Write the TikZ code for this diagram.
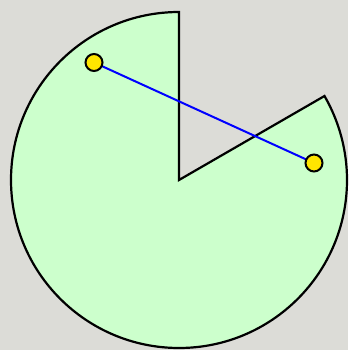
\documentclass[tikz,border=0pt]{standalone}
\definecolor{bggrey}{HTML}{DCDCD7}
\definecolor{pacgreen}{HTML}{CCFFCC}
\definecolor{dotyellow}{HTML}{FFE600}
\begin{document}
\begin{tikzpicture}[x=1pt,y=-1pt,
  dot/.style={circle,draw=black,fill=dotyellow,line width=2pt,minimum size=17pt,inner sep=0pt}]
\fill[bggrey] (0,0) rectangle (348,350);
\useasboundingbox (0,0) rectangle (348,350);
\coordinate (c) at (179,180);
\draw[fill=pacgreen,line width=2.2pt,line join=miter]
  (c) -- ++(0,-168) arc[start angle=-90,end angle=-390,radius=168] -- cycle;
\coordinate (p) at (94,62.5);
\coordinate (q) at (314,163);
\draw[blue,line width=2pt] (p) -- (q);
\node[dot] (pd) at (p) {};
\node[dot] (qd) at (q) {};
\end{tikzpicture}
\end{document}
